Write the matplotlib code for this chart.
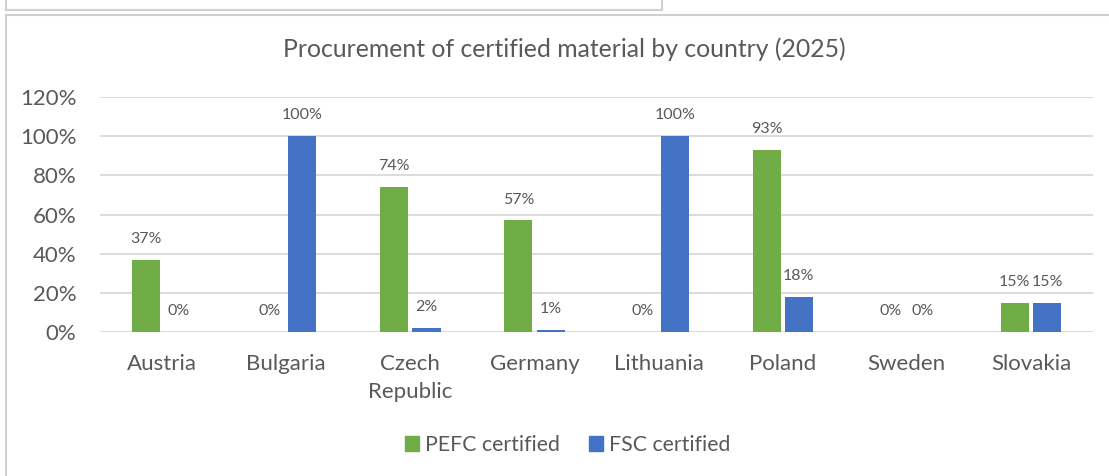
import matplotlib.pyplot as plt
from matplotlib.lines import Line2D
from matplotlib.ticker import PercentFormatter
import numpy as np

countries = ['Austria', 'Bulgaria', 'Czech\nRepublic', 'Germany', 'Lithuania', 'Poland', 'Sweden', 'Slovakia']
pefc = [0.37, 0.00, 0.74, 0.57, 0.00, 0.93, 0.00, 0.15]
fsc = [0.00, 1.00, 0.02, 0.01, 1.00, 0.18, 0.00, 0.15]
series_names = ['PEFC certified', 'FSC certified']

green = '#70AD47'
blue = '#4472C4'
txt = '#595959'
grid = '#D9D9D9'

plt.rcParams['font.family'] = ['Lato', 'DejaVu Sans']

fig = plt.figure(figsize=(11.09, 4.76), dpi=100)
ax = fig.add_axes([0.0902, 0.3025, 0.8954, 0.4937])

x = np.arange(len(countries))
w = 0.226
off = 0.13
b1 = ax.bar(x - off, pefc, w, color=green, label=series_names[0])
b2 = ax.bar(x + off, fsc, w, color=blue, label=series_names[1])

for bars, vals in ((b1, pefc), (b2, fsc)):
    for r, v in zip(bars, vals):
        ax.annotate(f'{v:.0%}', (r.get_x() + r.get_width() / 2, v),
                    xytext=(0, 15), textcoords='offset points',
                    ha='center', va='center', fontsize=11.5, color=txt)

ax.set_xlim(-0.5, len(countries) - 0.5)
ax.set_ylim(0, 1.2)
ax.set_yticks(np.arange(0, 1.21, 0.2))
ax.yaxis.set_major_formatter(PercentFormatter(1.0, decimals=0))
ax.set_xticks(x)
ax.set_xticklabels(countries, linespacing=1.55)
ax.tick_params(axis='both', length=0, colors=txt, labelsize=16)
ax.tick_params(axis='x', pad=15.5)
ax.tick_params(axis='y', pad=17)
for s in ax.spines.values():
    s.set_visible(False)
ax.grid(axis='y', color=grid, linewidth=1.3)
ax.set_axisbelow(True)

fig.text(0.5086, 1 - 49 / 476, 'Procurement of certified material by country (2025)',
         ha='center', va='center', fontsize=17.8, color=txt)

handles = [plt.Rectangle((0, 0), 1, 1, color=green), plt.Rectangle((0, 0), 1, 1, color=blue)]
fig.legend(handles, series_names, loc='center', bbox_to_anchor=(567.5 / 1109, 1 - 445 / 476),
           ncol=2, frameon=False, fontsize=15.3, labelcolor=txt,
           handlelength=0.66, handleheight=0.66, handletextpad=0.28, columnspacing=1.36)

# frame lines of the surrounding boxes
fc = '#D0D0D0'
fig.add_artist(Line2D([6 / 1109, 1], [1 - 15 / 476] * 2, color=fc, lw=1.5))
fig.add_artist(Line2D([6 / 1109] * 2, [0, 1 - 15 / 476], color=fc, lw=1.5))
fig.add_artist(Line2D([6 / 1109, 662 / 1109], [1 - 10 / 476] * 2, color=fc, lw=1.5))
fig.add_artist(Line2D([662 / 1109] * 2, [1 - 10 / 476, 1], color=fc, lw=1.5))
fig.add_artist(Line2D([6 / 1109] * 2, [1 - 10 / 476, 1], color=fc, lw=1.5))

fig.savefig('out.png', dpi=100, facecolor='white')
